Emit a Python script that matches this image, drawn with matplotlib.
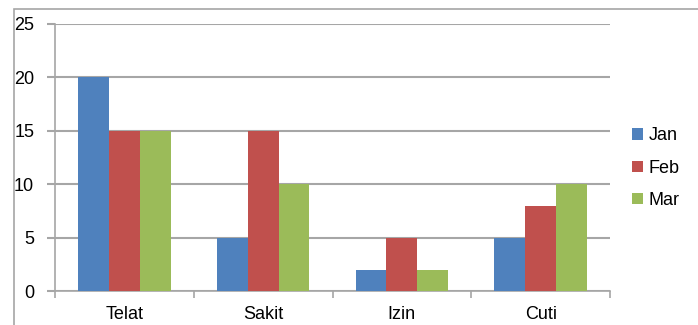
import numpy as np
import matplotlib.pyplot as plt
from matplotlib.patches import Rectangle

categories = ["Telat", "Sakit", "Izin", "Cuti"]
jan = [20, 5, 2, 5]
feb = [15, 15, 5, 8]
mar = [15, 10, 2, 10]
series = [("Jan", jan, "#4F81BD"), ("Feb", feb, "#C0504D"), ("Mar", mar, "#9BBB59")]

grid_col = "#A6A6A6"
plt.rcParams["font.family"] = ["Liberation Sans", "DejaVu Sans"]

fig = plt.figure(figsize=(6.98, 3.25), dpi=100)
ax = fig.add_axes([55 / 698, 1 - 291 / 325, 555 / 698, 267 / 325])

# outer chart border (bottom/right run off the image)
fig.patches.append(Rectangle((14 / 698, -0.2), 1.2, 1.2 - 9 / 325,
                             transform=fig.transFigure, fill=False,
                             edgecolor=grid_col, linewidth=1.2))

x = np.arange(len(categories)) + 0.5
w = 1 / 4.5
for i, (name, vals, col) in enumerate(series):
    ax.bar(x + (i - 1) * w, vals, width=w, color=col, label=name, zorder=3)

ax.set_xlim(0, 4)
ax.set_ylim(0, 25)
ax.set_yticks(range(0, 26, 5))
ax.yaxis.grid(True, color=grid_col, linewidth=1.5, zorder=0)
ax.set_xticks(x)
ax.set_xticklabels(categories)
ax.set_xticks(range(5), minor=True)
ax.tick_params(axis="x", which="major", length=0, labelsize=13, pad=11)
ax.tick_params(axis="x", which="minor", length=5, color=grid_col, width=1.2)
ax.tick_params(axis="y", length=6, color=grid_col, width=1.5, labelsize=13, pad=9)

for s in ["top", "right"]:
    ax.spines[s].set_visible(False)
for s in ["left", "bottom"]:
    ax.spines[s].set_color(grid_col)
    ax.spines[s].set_linewidth(1.2)

ax.legend(loc="center left", bbox_to_anchor=(1.027, 0.46), frameon=False,
          borderaxespad=0, fontsize=13, handlelength=0.62, handleheight=0.58,
          handletextpad=0.3, labelspacing=0.85)

fig.savefig("out.png", dpi=100)
